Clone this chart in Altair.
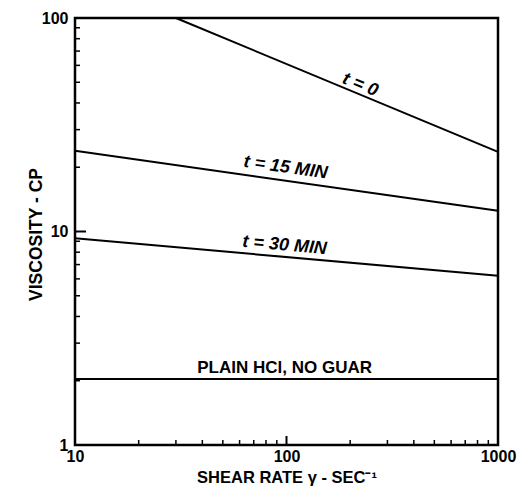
import altair as alt
import pandas as pd

# ---- data ----
series_names = ["t = 0", "t = 15 MIN", "t = 30 MIN", "PLAIN HCl, NO GUAR"]
series_x = [[30, 1000], [10, 1000], [10, 1000], [10, 1000]]
series_y = [[100, 23.6], [23.9, 12.5], [9.3, 6.2], [2.04, 2.04]]

label_text = ["t = 0", "t = 15 MIN", "t = 30 MIN", "PLAIN HCl, NO GUAR"]
label_x = [223, 99, 98, 98]
label_y = [48.6, 19.9, 8.6, 2.29]
label_angle = [22, 8, 5, 0]
label_style = ["italic", "italic", "italic", "normal"]
label_size = [18, 18, 18, 17]

x_ticks = [10, 100, 1000]
y_ticks = [1, 10, 100]
x_minor = [20, 30, 40, 50, 60, 70, 80, 90, 200, 300, 400, 500, 600, 700, 800, 900]
y_minor = [2, 3, 4, 5, 6, 7, 8, 9, 20, 30, 40, 50, 60, 70, 80, 90]
x_major_inner = [100]
y_major_inner = [10]

rows = []
for n, xs, ys in zip(series_names, series_x, series_y):
    for xv, yv in zip(xs, ys):
        rows.append({"series": n, "x": xv, "y": yv})
lines_df = pd.DataFrame(rows)
labels_df = pd.DataFrame({"text": label_text, "x": label_x, "y": label_y,
                          "angle": label_angle, "style": label_style, "size": label_size})

FONT = "Liberation Sans"
W, H = 423, 427

xscale = alt.Scale(type="log", domain=[10, 1000], nice=False)
yscale = alt.Scale(type="log", domain=[1, 100], nice=False)

xaxis = alt.Axis(values=x_ticks, format="d", ticks=False, domain=False, grid=False,
                 labelFont=FONT, labelFontWeight="bold", labelFontSize=16, labelColor="black",
                 labelPadding=3, labelFlush=False,
                 title="SHEAR RATE γ - SEC⁻¹", titleFont=FONT, titleFontWeight="bold",
                 titleFontSize=16.5, titleColor="black", titlePadding=5)
yaxis = alt.Axis(values=y_ticks, format="d", ticks=False, domain=False, grid=False,
                 labelFont=FONT, labelFontWeight="bold", labelFontSize=16, labelColor="black",
                 labelPadding=7, labelFlush=False,
                 title="VISCOSITY - CP", titleFont=FONT, titleFontWeight="bold",
                 titleFontSize=17.5, titleColor="black",
                 titleX=-30, titleY=216, titleBaseline="bottom", titleAngle=270)

lines = alt.Chart(lines_df).mark_line(color="black", strokeWidth=2).encode(
    x=alt.X("x:Q", scale=xscale, axis=xaxis),
    y=alt.Y("y:Q", scale=yscale, axis=yaxis),
    detail="series:N",
)

texts = []
for _, r in labels_df.iterrows():
    texts.append(
        alt.Chart(pd.DataFrame([r])).mark_text(
            font=FONT, fontSize=float(r["size"]), fontWeight="bold", fontStyle=r["style"],
            color="black", angle=float(r["angle"]), align="center", baseline="middle"
        ).encode(x=alt.X("x:Q", scale=xscale), y=alt.Y("y:Q", scale=yscale), text="text:N")
    )

ymin_df = pd.DataFrame({"v": y_minor})
xmin_df = pd.DataFrame({"v": x_minor})
ymaj_df = pd.DataFrame({"v": y_major_inner})
xmaj_df = pd.DataFrame({"v": x_major_inner})

y_minor_ticks = alt.Chart(ymin_df).mark_rule(color="black", strokeWidth=1.5).encode(
    y=alt.Y("v:Q", scale=yscale), x=alt.value(0), x2=alt.value(5))
y_major_ticks = alt.Chart(ymaj_df).mark_rule(color="black", strokeWidth=2).encode(
    y=alt.Y("v:Q", scale=yscale), x=alt.value(0), x2=alt.value(11))
x_minor_ticks = alt.Chart(xmin_df).mark_rule(color="black", strokeWidth=1.5).encode(
    x=alt.X("v:Q", scale=xscale), y=alt.value(H), y2=alt.value(H - 5))
x_major_ticks = alt.Chart(xmaj_df).mark_rule(color="black", strokeWidth=2).encode(
    x=alt.X("v:Q", scale=xscale), y=alt.value(H), y2=alt.value(H - 9))

chart = alt.layer(
    lines, y_minor_ticks, y_major_ticks, x_minor_ticks, x_major_ticks, *texts
).properties(
    width=W, height=H,
    autosize=alt.AutoSizeParams(type="none"),
    padding={"left": 75, "top": 18, "right": 28, "bottom": 43},
    background="white",
).configure_view(stroke="black", strokeWidth=2.5)

chart.save("out.html", embed_options={"renderer": "svg", "actions": False})
